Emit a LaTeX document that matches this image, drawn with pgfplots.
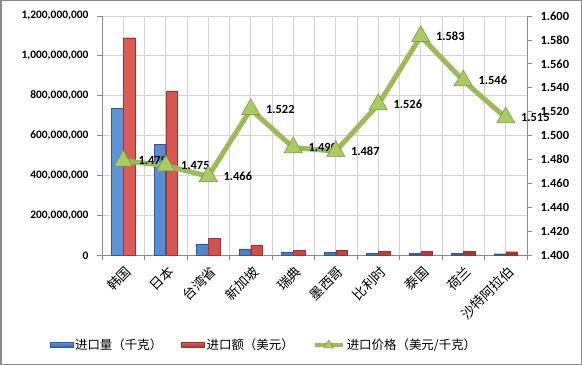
\documentclass[border=0pt]{standalone}
\usepackage{fontspec}
\setmainfont{Carlito}[BoldFont={Carlito Bold}]
\newfontfamily\cjk{Noto Sans CJK SC}
\usepackage{pgfplots}
\usepackage{pgfplotstable}
\pgfplotsset{compat=1.18}
\definecolor{barblue}{HTML}{4F81BD}
\definecolor{barbluel}{HTML}{5E93D8}
\definecolor{barblued}{HTML}{2F5C99}
\definecolor{barred}{HTML}{C0504D}
\definecolor{barredl}{HTML}{DE5B57}
\definecolor{barredd}{HTML}{A03330}
\definecolor{lgreen}{HTML}{9BBB59}
\definecolor{mgreen}{HTML}{A9CB62}
\definecolor{dgreen}{HTML}{71913A}
\definecolor{gridgray}{HTML}{D4D4D4}
\definecolor{axgray}{HTML}{8C8C8C}

\pgfplotstableread{
x qty val price
0 737000000 1091000000 1.479
1 557000000 824000000 1.475
2 57000000 84000000 1.466
3 32000000 50000000 1.522
4 16500000 25000000 1.490
5 15000000 25000000 1.487
6 11500000 21500000 1.526
7 10000000 20000000 1.583
8 10000000 20000000 1.546
9 8000000 18000000 1.515
}\datatable

\begin{document}
\begin{tikzpicture}
\useasboundingbox (0bp,0bp) rectangle (582bp,365bp);
\draw[axgray, line width=1.5bp] (0.75bp,0.75bp) rectangle (581.25bp,364.25bp);
\begin{axis}[
  at={(102bp,109.7bp)}, anchor=south west,
  scale only axis, width=425bp, height=239.3bp,
  xmin=-0.5, xmax=9.5, ymin=0, ymax=1.2e9,
  axis y line*=left, axis x line*=bottom,
  axis line style={axgray, line width=0.8bp, -},
  xtick={0,...,9},
  xticklabels={韩国,日本,台湾省,新加坡,瑞典,墨西哥,比利时,泰国,荷兰,沙特阿拉伯},
  minor xtick={-0.5,0.5,1.5,2.5,3.5,4.5,5.5,6.5,7.5,8.5,9.5},
  xmajorgrids, xminorgrids, ymajorgrids,
  grid style={gridgray, line width=0.8bp},
  major x tick style={draw=none},
  minor x tick style={axgray, line width=0.8bp},
  y tick style={axgray, line width=0.8bp},
  tick align=outside, major tick length=5bp, minor tick length=5bp,
  ytick={0,200000000,400000000,600000000,800000000,1000000000,1200000000},
  scaled y ticks=false,
  /pgf/number format/fixed, /pgf/number format/1000 sep={,}, /pgf/number format/precision=0,
  /pgf/number format/assume math mode=true,
  yticklabel style={font=\bfseries\fontsize{11.5}{14}\selectfont, xshift=-5bp},
  xticklabel style={font=\cjk\fontsize{13.5}{14}\selectfont, rotate=45, anchor=east, xshift=1bp, yshift=-10bp},
  ybar, bar width=0.27,
]
\addplot[bar shift=-0.14, draw=barblued, line width=0.4bp, left color=barbluel, right color=barblued] table[x=x, y=qty] {\datatable};
\addplot[bar shift=0.14, draw=barredd, line width=0.4bp, left color=barredl, right color=barredd] table[x=x, y=val] {\datatable};
\end{axis}
\begin{axis}[
  at={(102bp,109.7bp)}, anchor=south west,
  scale only axis, width=425bp, height=239.3bp,
  xmin=-0.5, xmax=9.5, ymin=1.4, ymax=1.6,
  axis y line*=right, axis x line=none,
  axis line style={axgray, line width=0.8bp, -},
  y tick style={axgray, line width=0.8bp},
  tick align=outside, major tick length=5bp,
  ytick={1.40,1.42,1.44,1.46,1.48,1.50,1.52,1.54,1.56,1.58,1.60},
  /pgf/number format/fixed, /pgf/number format/fixed zerofill, /pgf/number format/precision=3,
  /pgf/number format/assume math mode=true,
  yticklabel style={font=\bfseries\fontsize{12.5}{14}\selectfont, xshift=5bp},
  legend style={at={(0.381,-0.375)}, anchor=center, draw=none, fill=none,
    font=\cjk\fontsize{12.5}{13}\selectfont,
    /tikz/every even column/.append style={column sep=17bp},
    inner sep=0pt},
  legend columns=3,
  legend cell align=left,
]
\addlegendimage{legend image code/.code={\draw[barblued, line width=0.4bp, top color=barbluel, bottom color=barblued] (0bp,-2.5bp) rectangle (23bp,2.5bp);}}
\addlegendentry{进口量（千克）}
\addlegendimage{legend image code/.code={\draw[barredd, line width=0.4bp, top color=barredl, bottom color=barredd] (0bp,-2.5bp) rectangle (23bp,2.5bp);}}
\addlegendentry{进口额（美元）}
\addplot[lgreen, line width=5bp, mark=triangle*, mark size=10.5bp,
  mark options={fill=mgreen, draw=dgreen, line width=0.5bp},
  legend image code/.code={\draw[lgreen, line width=4bp] (0bp,0bp) -- (28bp,0bp); \draw[fill=mgreen, draw=dgreen, line width=0.4bp] (9bp,-3bp) -- (19bp,-3bp) -- (14bp,5bp) -- cycle;},
  nodes near coords,
  every node near coord/.append style={anchor=west, xshift=14bp, yshift=0bp, text=black, font=\bfseries\fontsize{12.5}{14}\selectfont, inner sep=1bp},
] table[x=x, y=price, meta=price] {\datatable};
\addlegendentry{进口价格（美元/千克）}
\end{axis}
\end{tikzpicture}
\end{document}
